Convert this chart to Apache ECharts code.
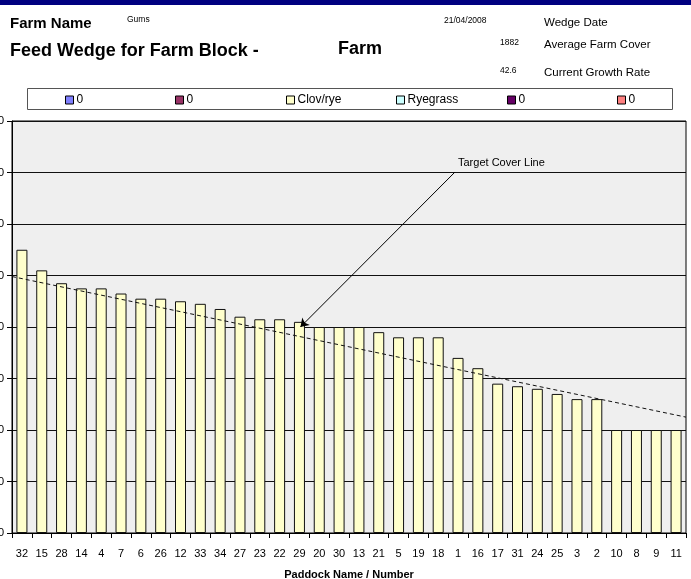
<!DOCTYPE html>
<html>
<head>
<meta charset="utf-8">
<script src="https://cdn.jsdelivr.net/npm/echarts@6/dist/echarts.min.js"></script>
<style>
html,body{margin:0;padding:0;background:#fff;}
#chart{width:691px;height:579px;}
</style>
</head>
<body>
<div id="chart"></div>
<script>
// ---- data ----
const paddocks = ['32','15','28','14','4','7','6','26','12','33','34','27','23','22','29','20','30','13','21','5','19','18','1','16','17','31','24','25','3','2','10','8','9','11'];
const clovRye = [2750,2550,2425,2375,2375,2325,2275,2275,2250,2225,2175,2100,2075,2075,2050,2000,2000,2000,1950,1900,1900,1900,1700,1600,1450,1425,1400,1350,1300,1300,1000,1000,1000,1000];
const legendLabels = ['0','0','Clov/rye','Ryegrass','0','0'];
const seriesKeys = ['s1','s2','s3','s4','s5','s6'];
const seriesColors = ['#8080FF','#993366','#FFFFCC','#CCFFFF','#660066','#FF8080'];
const seriesData = [[], [], clovRye, [], [], []];
const targetX = [0, 34];
const targetY = [2490, 1125];
const arrowFrom = [22.35, 3505];
const arrowTo = [14.55, 2000];
const yTicks = {min: 0, max: 4000, interval: 500};

const FONT = '"Liberation Sans", Arial, sans-serif';
const chart = echarts.init(document.getElementById('chart'), null, {renderer: 'canvas'});

const barSeries = seriesKeys.map((k, i) => ({
  name: k,
  type: 'bar',
  stack: 'cover',
  barWidth: 11,
  data: seriesData[i],
  itemStyle: {color: seriesColors[i], borderColor: '#111', borderWidth: 1},
  emphasis: {disabled: true},
  animation: false
}));

const legendLefts = [65, 175, 286, 396, 507, 617];
const legends = seriesKeys.map((k, i) => ({
  data: [k],
  left: legendLefts[i], top: 94,
  padding: 0,
  itemWidth: 8, itemHeight: 8,
  icon: 'rect',
  itemStyle: {borderColor: '#000', borderWidth: 1},
  formatter: () => legendLabels[i],
  textStyle: {fontFamily: FONT, fontSize: 12, color: '#000', padding: [0,0,0,-2]},
  selectedMode: false
}));

const option = {
  animation: false,
  textStyle: {fontFamily: FONT},
  grid: {left: 12, right: 5, top: 121, bottom: 46, show: true, backgroundColor: '#EFEFEF', borderColor: '#000', borderWidth: 1, containLabel: false, outerBoundsMode: 'none'},
  legend: legends,
  xAxis: [{
    type: 'category',
    data: paddocks,
    boundaryGap: true,
    axisLine: {lineStyle: {color: '#000', width: 1}},
    axisTick: {show: true, length: 5, lineStyle: {color: '#000'}},
    axisLabel: {color: '#000', fontSize: 11, fontFamily: FONT, margin: 15, interval: 0},
    name: 'Paddock Name / Number',
    nameLocation: 'middle',
    nameGap: 36,
    nameTextStyle: {color: '#000', fontSize: 11, fontWeight: 'bold', fontFamily: FONT}
  }, {
    type: 'value', min: 0, max: 34, show: false
  }],
  yAxis: {
    type: 'value',
    min: yTicks.min, max: yTicks.max, interval: yTicks.interval,
    axisLine: {show: true, lineStyle: {color: '#000'}},
    axisTick: {show: true, length: 5, lineStyle: {color: '#000'}},
    axisLabel: {color: '#000', fontSize: 11, fontFamily: FONT, margin: 8, formatter: v => String(v)},
    splitLine: {show: true, lineStyle: {color: '#111', width: 1}}
  },
  series: barSeries.concat([{
    name: 'target',
    type: 'line',
    xAxisIndex: 1,
    data: targetX.map((x, i) => [x, targetY[i]]),
    symbol: 'none',
    lineStyle: {color: '#111', width: 1, type: [4, 3]},
    clip: false,
    silent: true,
    markLine: {
      silent: true,
      symbol: ['none', 'arrow'],
      symbolSize: 8,
      label: {show: false},
      lineStyle: {color: '#000', width: 1, type: 'solid'},
      emphasis: {disabled: true},
      data: [[{coord: arrowFrom}, {coord: arrowTo}]]
    }
  }]),
  graphic: [
    {type: 'rect', shape: {x: 0, y: 0, width: 691, height: 5}, style: {fill: '#000080'}},
    {type: 'rect', shape: {x: 27.5, y: 88.5, width: 645, height: 21}, style: {fill: 'none', stroke: '#555', lineWidth: 1}},
    {type: 'text', x: 10, y: 24, style: {text: 'Farm Name', font: 'bold 15px ' + FONT, fill: '#000', verticalAlign: 'middle'}},
    {type: 'text', x: 127, y: 20, style: {text: 'Gums', font: '8.5px ' + FONT, fill: '#000', verticalAlign: 'middle'}},
    {type: 'text', x: 10, y: 51, style: {text: 'Feed Wedge for Farm Block -', font: 'bold 18px ' + FONT, fill: '#000', verticalAlign: 'middle'}},
    {type: 'text', x: 338, y: 49, style: {text: 'Farm', font: 'bold 18px ' + FONT, fill: '#000', verticalAlign: 'middle'}},
    {type: 'text', x: 444, y: 21, style: {text: '21/04/2008', font: '8.5px ' + FONT, fill: '#000', verticalAlign: 'middle'}},
    {type: 'text', x: 500, y: 43, style: {text: '1882', font: '8.5px ' + FONT, fill: '#000', verticalAlign: 'middle'}},
    {type: 'text', x: 500, y: 71, style: {text: '42.6', font: '8.5px ' + FONT, fill: '#000', verticalAlign: 'middle'}},
    {type: 'text', x: 544, y: 23, style: {text: 'Wedge Date', font: '11.5px ' + FONT, fill: '#000', verticalAlign: 'middle'}},
    {type: 'text', x: 544, y: 45, style: {text: 'Average Farm Cover', font: '11.5px ' + FONT, fill: '#000', verticalAlign: 'middle'}},
    {type: 'text', x: 544, y: 73, style: {text: 'Current Growth Rate', font: '11.5px ' + FONT, fill: '#000', verticalAlign: 'middle'}},
    {type: 'text', x: 458, y: 163, style: {text: 'Target Cover Line', font: '11px ' + FONT, fill: '#000', verticalAlign: 'middle'}}
  ]
};
chart.setOption(option);
</script>
</body>
</html>
